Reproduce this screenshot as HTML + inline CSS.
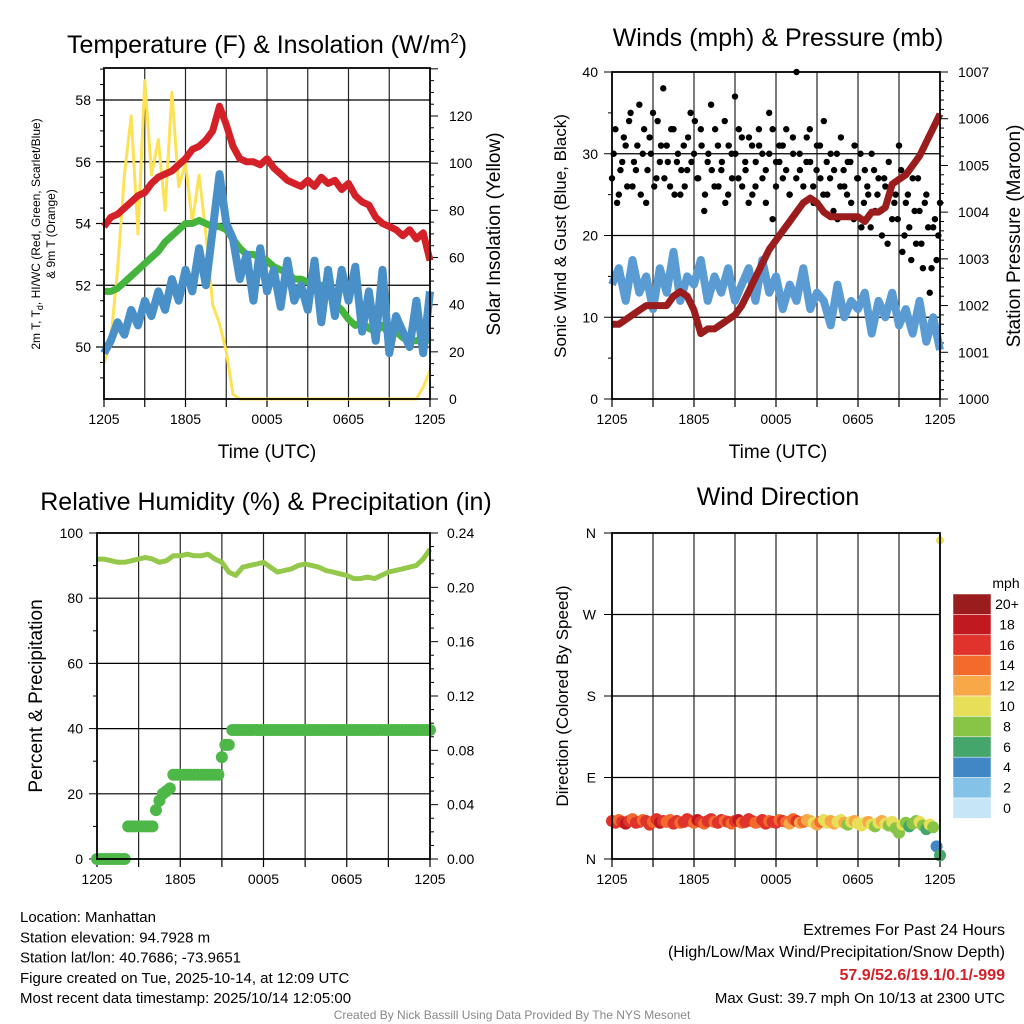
<!DOCTYPE html>
<html><head><meta charset="utf-8">
<style>
body{margin:0;background:#fff;}
svg{display:block;font-family:"Liberation Sans",Arial,sans-serif;}
</style></head>
<body>
<svg id="chart" width="1024" height="1024" viewBox="0 0 1024 1024" xmlns="http://www.w3.org/2000/svg"></svg>
<script>
// ---------- DATA (30-min samples, 1205 -> 1205 UTC) ----------
const timeTicks = ["1205","1805","0005","0605","1205"];
const tempRed = [53.9,54.2,54.3,54.5,54.7,54.9,55.0,55.3,55.5,55.6,55.7,55.9,56.1,56.4,56.5,56.7,57.0,57.8,57.2,56.5,56.1,56.0,56.0,55.9,56.1,55.8,55.6,55.4,55.3,55.2,55.4,55.2,55.5,55.3,55.4,55.1,55.3,54.9,54.7,54.6,54.2,54.0,53.9,53.8,53.6,53.8,53.5,53.7,52.8];
const dewGreen = [51.8,51.8,51.9,52.1,52.3,52.5,52.7,52.9,53.1,53.4,53.6,53.8,54.0,54.0,54.1,54.0,53.9,53.9,53.8,53.5,53.2,53.0,53.0,52.9,52.8,52.6,52.5,52.4,52.2,52.2,52.1,52.0,52.0,51.8,51.4,51.2,50.9,50.7,50.8,50.6,50.5,50.7,50.4,50.5,50.3,50.2,50.2,50.3,50.2];
const hiwcBlue = [49.8,50.2,50.8,50.4,51.2,50.7,51.5,51.0,51.8,51.2,52.2,51.5,52.5,51.8,53.2,52.0,53.8,55.6,54.0,53.5,52.2,53.0,51.5,53.2,51.8,52.5,51.3,52.8,51.5,52.0,51.2,52.8,50.8,52.5,51.0,52.5,51.5,52.6,50.5,51.8,50.2,52.5,49.8,51.0,50.5,50.0,51.5,49.8,51.8];
const solarYellow = [15,25,55,95,120,70,135,95,110,80,130,90,100,75,95,70,40,32,20,2,0,0,0,0,0,0,0,0,0,0,0,0,0,0,0,0,0,0,0,0,0,0,0,0,0,0,0,5,12];
const windBlue = [14,16,12,17,13,15,11,16,13,18,12,15,14,17,12,15,13,16,12,14,16,12,17,13,15,11,14,12,16,11,13,12,9,14,10,12,11,13,8,12,10,13,9,11,8,12,7,10,6];
const pressMaroon = [1001.6,1001.6,1001.7,1001.8,1001.9,1002.0,1002.0,1002.0,1002.0,1002.2,1002.3,1002.2,1001.9,1001.4,1001.5,1001.5,1001.6,1001.7,1001.8,1002.0,1002.3,1002.6,1002.9,1003.2,1003.4,1003.6,1003.8,1004.0,1004.2,1004.3,1004.2,1004.0,1003.9,1003.9,1003.9,1003.9,1003.9,1003.8,1004.0,1004.0,1004.1,1004.6,1004.7,1004.8,1005.0,1005.2,1005.5,1005.8,1006.1];
// gusts: 15-min samples (two interleaved sets)
const gustBlack = [27,33,25,29,31,34,26,28,36,30,24,32,35,27,29,38,31,26,33,29,25,31,28,35,30,27,33,23,29,36,26,31,28,34,25,30,37,27,32,29,24,31,26,33,30,28,35,22,29,31,27,33,25,30,40,28,26,32,29,24,31,27,34,25,30,28,22,32,26,29,24,31,27,21,28,25,30,23,27,20,26,29,22,25,31,18,24,21,27,19,23,16,25,13,21,17,24];
const gustBlack2 = [30,24,28,32,26,35,29,31,25,33,28,30,26,34,31,27,29,33,25,30,28,26,32,29,34,27,31,25,30,28,33,26,29,24,31,27,30,33,26,28,32,25,29,31,27,24,30,33,26,29,31,28,25,32,27,30,24,29,33,26,28,31,25,29,27,23,30,26,28,25,29,22,27,30,24,26,21,28,25,23,27,19,26,24,22,28,20,25,17,23,27,19,24,21,16,22,20];
const rhGreen = [92,92,91.5,91,91,91.5,92,92.5,92,91,91.5,93,93,93.5,93,93,93.5,92,91,88,87,89.5,90,90.5,91,89.5,88,88.5,89,90,90.5,90,89.5,88.5,88,87.5,87,86,86,86.5,86,87,88,88.5,89,89.5,90,92,95];
// precip: 15-min samples (in)
const precipIn = [0,0,0,0,0,0,0,0,0,0.024,0.024,0.024,0.024,0.024,0.024,0.024,0.024,0.036,0.043,0.048,0.050,0.052,0.062,0.062,0.062,0.062,0.062,0.062,0.062,0.062,0.062,0.062,0.062,0.062,0.062,0.062,0.075,0.084,0.084,0.095,0.095,0.095,0.095,0.095,0.095,0.095,0.095,0.095,0.095,0.095,0.095,0.095,0.095,0.095,0.095,0.095,0.095,0.095,0.095,0.095,0.095,0.095,0.095,0.095,0.095,0.095,0.095,0.095,0.095,0.095,0.095,0.095,0.095,0.095,0.095,0.095,0.095,0.095,0.095,0.095,0.095,0.095,0.095,0.095,0.095,0.095,0.095,0.095,0.095,0.095,0.095,0.095,0.095,0.095,0.095,0.095,0.095];
// wind direction (deg) & speed (mph): 15-min samples
const windDir = [42,40,43,41,39,42,44,40,41,43,42,38,41,44,40,42,41,43,39,42,40,41,44,42,40,43,41,39,42,44,41,40,43,42,41,39,42,43,40,41,44,42,40,41,43,39,42,41,40,43,42,41,39,44,42,40,41,43,42,40,38,41,43,40,42,39,41,43,40,38,41,42,39,37,40,41,38,36,40,42,39,37,41,34,29,38,40,36,39,42,41,37,33,38,35,14,4];
const windSpd = [16,17,15,16,18,16,15,17,16,14,16,17,15,16,18,17,15,14,16,17,15,16,17,16,15,18,16,14,16,17,15,16,17,15,16,14,16,18,15,16,17,16,14,15,17,16,15,16,17,14,16,15,13,14,16,13,14,12,13,11,13,14,11,10,13,12,10,11,13,9,11,12,11,10,11,13,10,9,11,12,10,8,11,9,8,10,9,7,9,8,10,9,7,11,8,4,6];
const speedBins = ["20+","18","16","14","12","10","8","6","4","2","0"];
const binColors = ["#9b1c1c","#c0191f","#e0332c","#f26a2c","#f8a847","#e8df58","#88c446","#44a66b","#3f88c5","#84c2e8","#c6e6f8"];

// ---------- helpers ----------
const NS="http://www.w3.org/2000/svg";
const svg=document.getElementById('chart');
function mk(tag,attrs,parent){const e=document.createElementNS(NS,tag);for(const k in attrs)e.setAttribute(k,attrs[k]);(parent||svg).appendChild(e);return e;}
function txt(s,x,y,size,anchor,parent,extra){const e=mk('text',Object.assign({x:x,y:y,'font-size':size,'text-anchor':anchor||'middle',fill:'#000'},extra||{}),parent);e.textContent=s;return e;}
function lin(d0,d1,r0,r1){return v=>r0+(v-d0)*(r1-r0)/(d1-d0);}
function pathOf(vals,xf,yf){let d='';vals.forEach((v,i)=>{d+=(i?'L':'M')+xf(i).toFixed(1)+','+yf(v).toFixed(1);});return d;}

function frame(L,T,R,B,name){
  const g=mk('g',{});
  
  
  for(let k=1;k<8;k++){const x=L+(R-L)*k/8;mk('line',{x1:x,y1:T,x2:x,y2:B,stroke:'#000','stroke-width':1.2,opacity:0.85},g);}
  for(let k=0;k<=8;k++){const x=L+(R-L)*k/8;mk('line',{x1:x,y1:B,x2:x,y2:B+8,stroke:'#000','stroke-width':1.2},g);}
  timeTicks.forEach((t,k)=>{const lab=txt(t,L+(R-L)*k/4,B+25,14,'middle',g);
    
    });
  return g;
}
function hgrid(g,L,R,ys){ys.forEach(y=>mk('line',{x1:L,y1:y,x2:R,y2:y,stroke:'#000','stroke-width':1.2},g));}
function border(g,L,T,R,B){mk('rect',{x:L,y:T,width:R-L,height:B-T,fill:'none',stroke:'#000','stroke-width':1.8},g);}
function rot(s,x,y,size,parent){return txt(s,x,y,size,'middle',parent,{transform:`rotate(-90 ${x} ${y})`});}

// ---------- Panel 1 ----------
{
 const L=104,T=68,R=430,B=399;
 const g=frame(L,T,R,B,'temperature-panel');
 const xf=i=>L+i*(R-L)/48;
 const yT=lin(50,58,347,100), yS=lin(0,120,399,116);
 hgrid(g,L,R,[58,56,54,52,50].map(yT));
 [58,56,54,52,50].forEach(v=>{mk('line',{x1:L-8,y1:yT(v),x2:L,y2:yT(v),stroke:'#000','stroke-width':1.2},g);const t=txt(String(v),L-13,yT(v)+5,14,'end',g);});
 for(let v=49;v<=59;v+=0.5){if(v%2)mk('line',{x1:L-4,y1:yT(v),x2:L,y2:yT(v),stroke:'#000'},g);}
 for(let v=0;v<=140;v+=5){if(yS(v)<T)break;mk('line',{x1:R,y1:yS(v),x2:R+(v%20?4:8),y2:yS(v),stroke:'#000'},g);}
 [0,20,40,60,80,100,120].forEach(v=>{const t=txt(String(v),R+19,yS(v)+5,14,'start',g);});
 const sy=mk('path',{d:pathOf(solarYellow,xf,yS),fill:'none',stroke:'#fde256','stroke-width':3,'stroke-linejoin':'round'},g);
 
 
 const gr=mk('path',{d:pathOf(dewGreen,xf,yT),fill:'none',stroke:'#45b43d','stroke-width':7,'stroke-linejoin':'round'},g);
 
 
 const rd=mk('path',{d:pathOf(tempRed,xf,yT),fill:'none',stroke:'#d42027','stroke-width':7,'stroke-linejoin':'round'},g);
 
 
 const bl=mk('path',{d:pathOf(hiwcBlue,xf,yT),fill:'none',stroke:'#4a90c8','stroke-width':8,'stroke-linejoin':'round'},g);
 
 
 border(g,L,T,R,B);
 const ti=txt('',267,53,25,'middle',g);ti.innerHTML='Temperature (F) &amp; Insolation (W/m<tspan dy="-10" font-size="15">2</tspan><tspan dy="10">)</tspan>';
 
 const xt=txt('Time (UTC)',267,458,19,'middle',g);
 const y1=txt('',40,234,12,'middle',g,{transform:'rotate(-90 40 234)'});y1.innerHTML='2m T, T<tspan dy="3" font-size="9">d</tspan><tspan dy="-3">, HI/WC (Red, Green, Scarlet/Blue)</tspan>';
 
 const y1b=rot('& 9m T (Orange)',55,234,12,g);
 const y2=rot('Solar Insolation (Yellow)',500,234,19,g);
}
// ---------- Panel 2 ----------
{
 const L=612,T=72,R=940,B=399;
 const g=frame(L,T,R,B,'winds-pressure-panel');
 const xf=i=>L+i*(R-L)/48, xg=k=>L+k*(R-L)/96, xg2=k=>L+(k+0.5)*(R-L)/97;
 const yW=lin(0,40,399,72), yP=lin(1000,1007,399,72);
 hgrid(g,L,R,[10,20,30].map(yW));
 [0,10,20,30,40].forEach(v=>{mk('line',{x1:L-8,y1:yW(v),x2:L,y2:yW(v),stroke:'#000'},g);const t=txt(String(v),L-14,yW(v)+5,14,'end',g);});
 for(let v=5;v<40;v+=10)mk('line',{x1:L-4,y1:yW(v),x2:L,y2:yW(v),stroke:'#000'},g);
 for(let v=1000;v<=1007.001;v+=0.2){mk('line',{x1:R,y1:yP(v),x2:R+(Math.abs(v-Math.round(v))<0.01?8:4),y2:yP(v),stroke:'#000'},g);}
 for(let v=1000;v<=1007;v++){const t=txt(String(v),R+18,yP(v)+5,14,'start',g);}
 const wb=mk('path',{d:pathOf(windBlue,xf,yW),fill:'none',stroke:'#5a9bd4','stroke-width':8,'stroke-linejoin':'round'},g);
 
 
 gustBlack.forEach((v,k)=>{const c=mk('circle',{cx:xg(k),cy:yW(v),r:3.2,fill:'#000'},g);
   
   });
 gustBlack2.forEach((v,k)=>{const c=mk('circle',{cx:xg2(k),cy:yW(v),r:3.2,fill:'#000'},g);
   
   });
 const pm=mk('path',{d:pathOf(pressMaroon,xf,yP),fill:'none',stroke:'#9b1c1c','stroke-width':7,'stroke-linejoin':'round'},g);
 
 
 border(g,L,T,R,B);
 const ti=txt('Winds (mph) & Pressure (mb)',778,46,25,'middle',g);
 const xt=txt('Time (UTC)',778,458,19,'middle',g);
 const y1=rot('Sonic Wind & Gust (Blue, Black)',566,236,17,g);
 const y2=rot('Station Pressure (Maroon)',1020,236,19,g);
}
// ---------- Panel 3 ----------
{
 const L=97,T=533,R=430,B=859;
 const g=frame(L,T,R,B,'humidity-precip-panel');
 const xf=i=>L+i*(R-L)/48, xg=k=>L+k*(R-L)/96;
 const yR=lin(0,100,859,533), yI=lin(0,0.24,859,533);
 hgrid(g,L,R,[20,40,60,80].map(yR));
 [0,20,40,60,80,100].forEach(v=>{mk('line',{x1:L-8,y1:yR(v),x2:L,y2:yR(v),stroke:'#000'},g);const t=txt(String(v),L-14,yR(v)+5,14,'end',g);});
 for(let v=10;v<100;v+=20)mk('line',{x1:L-4,y1:yR(v),x2:L,y2:yR(v),stroke:'#000'},g);
 for(let v=0;v<=0.2401;v+=0.01)mk('line',{x1:R,y1:yI(v),x2:R+(Math.round(v*100)%4?4:8),y2:yI(v),stroke:'#000'},g);
 [0,0.04,0.08,0.12,0.16,0.20,0.24].forEach(v=>{const t=txt(v.toFixed(2),R+17,yI(v)+5,14,'start',g);});
 const rh=mk('path',{d:pathOf(rhGreen,xf,yR),fill:'none',stroke:'#94c84a','stroke-width':5,'stroke-linejoin':'round'},g);
 
 
 precipIn.forEach((v,k)=>{const c=mk('circle',{cx:xg(k),cy:yI(v),r:6,fill:'#4db848'},g);
   
   });
 border(g,L,T,R,B);
 const ti=txt('Relative Humidity (%) & Precipitation (in)',266,510,25,'middle',g);
 const y1=rot('Percent & Precipitation',42,696,19,g);
}
// ---------- Panel 4 ----------
{
 const L=612,T=533,R=940,B=859;
 const g=frame(L,T,R,B,'wind-direction-panel');
 const xg=k=>L+k*(R-L)/96;
 const yD=lin(0,360,859,533);
 hgrid(g,L,R,[90,180,270].map(yD));
 [["N",0],["E",90],["S",180],["W",270],["N",360]].forEach(([s,v])=>{mk('line',{x1:L-8,y1:yD(v),x2:L,y2:yD(v),stroke:'#000'},g);const t=txt(s,L-16,yD(v)+5,14,'end',g);});
 const binOf=s=>{const b=Math.min(10,Math.floor(s/2));return 10-b;};
 windDir.forEach((d,k)=>{const c=mk('circle',{cx:xg(k),cy:yD(d),r:6,fill:binColors[binOf(windSpd[k])]},g);
   
   });
 const extra=mk('circle',{cx:R,cy:yD(352),r:4,fill:binColors[5]},g);
 
 
 border(g,L,T,R,B);
 const ti=txt('Wind Direction',778,505,25,'middle',g);
 const y1=rot('Direction (Colored By Speed)',568,696,17,g);
 const cb=mk('g',{});
 
 
 const u=txt('mph',1006,588,14,'middle',cb);
 speedBins.forEach((s,k)=>{const y=594+k*20.4;
   const r=mk('rect',{x:953,y:y,width:38,height:20.4,fill:binColors[k],stroke:'#fff','stroke-width':0.5},cb);
   
   
   const t=txt(s,1007,y+15,14,'middle',cb);
   
   });
}
// ---------- footer text ----------
{
 const g=mk('g',{});
 
 
 ["Location: Manhattan","Station elevation: 94.7928 m","Station lat/lon: 40.7686; -73.9651","Figure created on Tue, 2025-10-14, at 12:09 UTC","Most recent data timestamp: 2025/10/14 12:05:00"].forEach((s,i)=>txt(s,20,922+i*20.3,15,'start',g));
 const h=mk('g',{});
 
 
 txt('Extremes For Past 24 Hours',1005,935,16,'end',h);
 txt('(High/Low/Max Wind/Precipitation/Snow Depth)',1005,957,16,'end',h);
 txt('57.9/52.6/19.1/0.1/-999',1005,980,16,'end',h,{fill:'#d42027','font-weight':'bold'});
 txt('Max Gust: 39.7 mph On 10/13 at 2300 UTC',1005,1003,15,'end',h);
 const c=txt('Created By Nick Bassill Using Data Provided By The NYS Mesonet',512,1019,12,'middle',null,{fill:'#888'});
 
 
}
</script>
</body></html>
